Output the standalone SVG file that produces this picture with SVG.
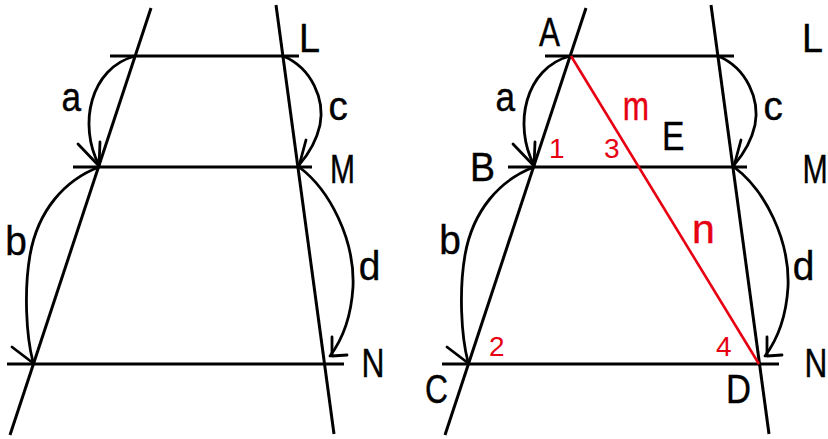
<svg xmlns="http://www.w3.org/2000/svg" width="828" height="439" viewBox="0 0 828 439">
  <style>
    .ln { stroke: #000; stroke-width: 3; fill: none; stroke-linecap: butt; }
    .arc { stroke: #000; stroke-width: 2.8; fill: none; stroke-linecap: round; stroke-linejoin: round; }
    .red { stroke: #e60012; stroke-width: 2.6; fill: none; }
    .t { font-family: "Liberation Sans", Arial, sans-serif; font-size: 41px; fill: #000; stroke: #000; stroke-width: 0.4; }
    .rt { font-family: "Liberation Sans", Arial, sans-serif; font-size: 41px; fill: #e60012; stroke: #e60012; stroke-width: 0.4; }
    .num { font-family: "Liberation Sans", Arial, sans-serif; font-size: 28px; fill: #e60012; }
  </style>
  <defs>
    <g id="lines">
      <line class="ln" x1="151" y1="8" x2="10" y2="435"/>
      <line class="ln" x1="276" y1="5" x2="334" y2="434"/>
      <line class="ln" x1="110" y1="56" x2="299" y2="56"/>
      <line class="ln" x1="73" y1="167" x2="312" y2="167"/>
      <line class="ln" x1="7" y1="364" x2="344" y2="364"/>
    </g>
    <g id="arcs">
      <path class="arc" d="M135,56 C90,68 78,125 99,165"/>
      <path class="arc" d="M78,144 L99,166 L100,142"/>
      <path class="arc" d="M283,56 C312,68 325,100 320,125 C316,143 306,157 299,165"/>
      <path class="arc" d="M306,140 L299,166"/>
      <path class="arc" d="M99,167 C65,180 38,210 30,255 C24,290 26,335 33,362"/>
      <path class="arc" d="M12,347 L33,363"/>
      <path class="arc" d="M299,167 C330,190 355,240 353,287 C351,320 342,340 330,356"/>
      <path class="arc" d="M332,337 L332,356 L347,355"/>
    </g>
  </defs>

  <g id="figure-left">
    <use href="#lines"/>
  </g>
  <g id="figure-right" transform="translate(435,0)">
    <use href="#lines"/>
  </g>
  <g id="connectors">
    <use href="#arcs"/>
    <use href="#arcs" transform="translate(435,0)"/>
    <line class="red" x1="571" y1="56" x2="759" y2="364"/>
  </g>

  <g id="labels-left">
    <g id="left-L"><text class="t" x="299" y="52" textLength="21" lengthAdjust="spacingAndGlyphs">L</text></g>
    <g id="left-M"><text class="t" x="330" y="183" textLength="25" lengthAdjust="spacingAndGlyphs">M</text></g>
    <g id="left-N"><text class="t" x="361.5" y="377" textLength="23" lengthAdjust="spacingAndGlyphs">N</text></g>
    <g id="left-a"><text class="t" x="61.5" y="111" textLength="19.6" lengthAdjust="spacingAndGlyphs">a</text></g>
    <g id="left-b"><text class="t" x="5.3" y="255" textLength="21.6" lengthAdjust="spacingAndGlyphs">b</text></g>
    <g id="left-c"><text class="t" x="328.4" y="120" textLength="19.3" lengthAdjust="spacingAndGlyphs">c</text></g>
    <g id="left-d"><text class="t" x="358.8" y="280" textLength="21.6" lengthAdjust="spacingAndGlyphs">d</text></g>
  </g>

  <g id="labels-right">
    <g id="node-A"><text class="t" x="539" y="46" textLength="21" lengthAdjust="spacingAndGlyphs">A</text></g>
    <g id="node-B"><text class="t" x="470" y="181" textLength="25" lengthAdjust="spacingAndGlyphs">B</text></g>
    <g id="node-C"><text class="t" x="425" y="403" textLength="23" lengthAdjust="spacingAndGlyphs">C</text></g>
    <g id="node-D"><text class="t" x="726" y="403" textLength="25" lengthAdjust="spacingAndGlyphs">D</text></g>
    <g id="node-E"><text class="t" x="662" y="150" textLength="22.5" lengthAdjust="spacingAndGlyphs">E</text></g>
    <g id="right-L"><text class="t" x="802" y="52" textLength="21" lengthAdjust="spacingAndGlyphs">L</text></g>
    <g id="right-M"><text class="t" transform="translate(802.5,183) scale(0.74,1)">M</text></g>
    <g id="right-N"><text class="t" transform="translate(804.5,377) scale(0.77,1)">N</text></g>
    <g id="right-a"><text class="t" x="495.6" y="111" textLength="19.6" lengthAdjust="spacingAndGlyphs">a</text></g>
    <g id="right-b"><text class="t" x="439.3" y="254" textLength="21.6" lengthAdjust="spacingAndGlyphs">b</text></g>
    <g id="right-c"><text class="t" x="763.4" y="120" textLength="19.3" lengthAdjust="spacingAndGlyphs">c</text></g>
    <g id="right-d"><text class="t" x="792.8" y="280" textLength="21.6" lengthAdjust="spacingAndGlyphs">d</text></g>
    <g id="seg-m"><text class="rt" x="622.8" y="120" textLength="26.3" lengthAdjust="spacingAndGlyphs">m</text></g>
    <g id="seg-n"><text class="rt" x="692" y="243" textLength="22.8" lengthAdjust="spacingAndGlyphs">n</text></g>
    <g id="angle-1"><text class="num" x="549" y="158">1</text></g>
    <g id="angle-2"><text class="num" x="489" y="356">2</text></g>
    <g id="angle-3"><text class="num" x="604" y="158">3</text></g>
    <g id="angle-4"><text class="num" x="716" y="356">4</text></g>
  </g>
</svg>
